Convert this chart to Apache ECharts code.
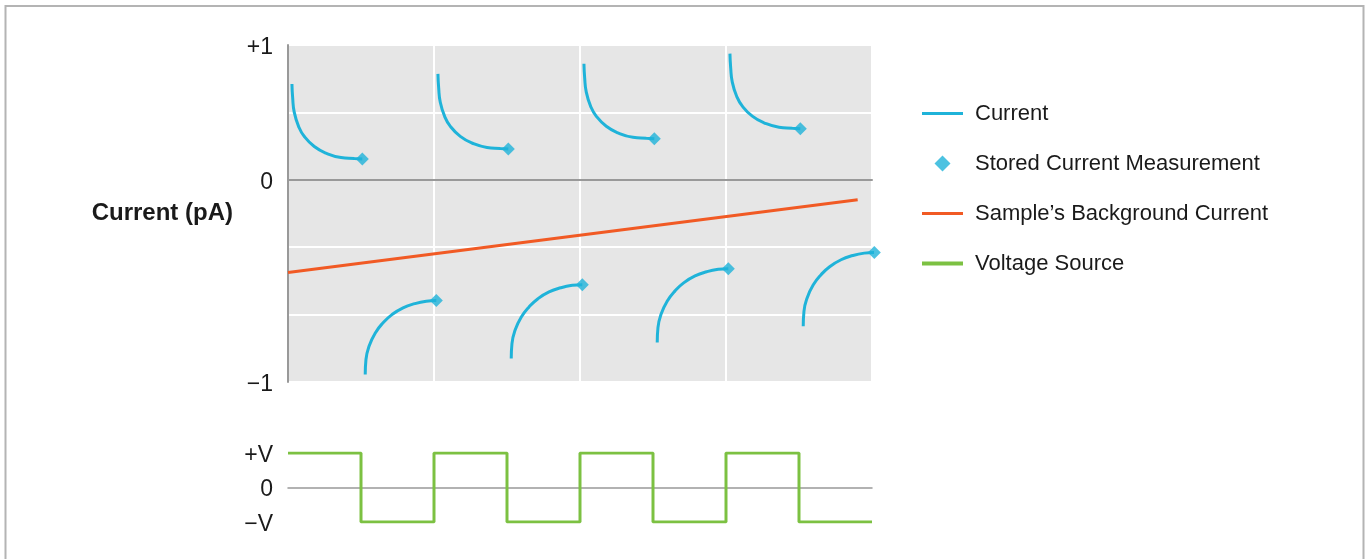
<!DOCTYPE html>
<html>
<head>
<meta charset="utf-8">
<script src="https://cdn.jsdelivr.net/npm/echarts@6/dist/echarts.min.js"></script>
<style>
html,body{margin:0;padding:0;background:#fff;}
#chart{width:1368px;height:559px;}
</style>
</head>
<body>
<div id="chart"></div>
<script>
// ---- Data (x in cycles, y in grid units) ----
const currentTickValues = [1, 0, -1.5];
const currentTickLabels = ['+1', '0', '\u22121'];
const voltageTickValues = [1, 0, -1];
const voltageTickLabels = ['+V', '0', '\u2212V'];

const upCurve1 = [[0.027,0.711],[0.032,0.607],[0.043,0.500],[0.073,0.395],[0.112,0.321],[0.180,0.247],[0.260,0.198],[0.363,0.165],[0.454,0.158],[0.509,0.154]];
const upCurve2 = [[1.027,0.786],[1.032,0.682],[1.043,0.575],[1.073,0.470],[1.112,0.396],[1.180,0.322],[1.260,0.273],[1.363,0.240],[1.454,0.233],[1.509,0.229]];
const upCurve3 = [[2.027,0.861],[2.032,0.757],[2.043,0.650],[2.073,0.545],[2.112,0.471],[2.180,0.397],[2.260,0.348],[2.363,0.315],[2.454,0.308],[2.509,0.304]];
const upCurve4 = [[3.027,0.936],[3.032,0.832],[3.043,0.725],[3.073,0.620],[3.112,0.546],[3.180,0.472],[3.260,0.423],[3.363,0.390],[3.454,0.383],[3.509,0.379]];
const downCurve1 = [[0.529,-1.444],[0.534,-1.333],[0.555,-1.235],[0.598,-1.136],[0.651,-1.061],[0.712,-1.000],[0.788,-0.950],[0.868,-0.919],[0.947,-0.901],[1.016,-0.896]];
const downCurve2 = [[1.529,-1.326],[1.534,-1.215],[1.555,-1.117],[1.598,-1.018],[1.651,-0.943],[1.712,-0.882],[1.788,-0.832],[1.868,-0.801],[1.947,-0.783],[2.016,-0.778]];
const downCurve3 = [[2.529,-1.207],[2.534,-1.096],[2.555,-0.998],[2.598,-0.899],[2.651,-0.824],[2.712,-0.763],[2.788,-0.713],[2.868,-0.682],[2.947,-0.664],[3.016,-0.659]];
const downCurve4 = [[3.529,-1.087],[3.534,-0.976],[3.555,-0.878],[3.598,-0.779],[3.651,-0.704],[3.712,-0.643],[3.788,-0.593],[3.868,-0.562],[3.947,-0.544],[4.016,-0.539]];

const storedX = [0.509, 1.016, 1.509, 2.016, 2.509, 3.016, 3.509, 4.016];
const storedY = [0.154, -0.896, 0.229, -0.778, 0.304, -0.659, 0.379, -0.539];

const backgroundX = [0, 3.902];
const backgroundY = [-0.687, -0.148];

const voltageX = [0, 0.5, 1, 1.5, 2, 2.5, 3, 3.5, 4];
const voltageY = [1, -1, 1, -1, 1, -1, 1, -1, -1];

// ---- Build ----
const curves = [upCurve1, downCurve1, upCurve2, downCurve2, upCurve3, downCurve3, upCurve4, downCurve4];
const currentData = [];
curves.forEach((c, i) => { if (i) currentData.push('-'); c.forEach(p => currentData.push(p)); });

const FONT = "'Liberation Sans', Arial, Helvetica, sans-serif";
const BLUE = '#1fb3d9', ORANGE = '#f15a24', GREEN = '#7cc142', AXIS = '#999999';

function labelFor(values, labels) {
  return v => { const i = values.findIndex(t => Math.abs(t - v) < 1e-6); return i >= 0 ? '{t|' + labels[i] + '}' : ''; };
}
const tickRich = {t: {fontFamily: FONT, fontSize: 23, color: '#1a1a1a', padding: [5, 0, 0, 0]}};

const LINE_ICON = 'path://M0,0 L41,0 L41,3 L0,3 Z';
const THICK_ICON = 'path://M0,0 L41,0 L41,4 L0,4 Z';
const DIAMOND_ICON = 'path://M7,0 L14,7 L7,14 L0,7 Z';

const chart = echarts.init(document.getElementById('chart'), null, {renderer: 'canvas'});
chart.setOption({
  animation: false,
  backgroundColor: '#ffffff',
  textStyle: {fontFamily: FONT},
  graphic: [{
    type: 'rect', silent: true, z: -10,
    shape: {x: 5.5, y: 6, width: 1358, height: 700},
    style: {fill: 'none', stroke: '#b4b4b4', lineWidth: 2}
  }],
  grid: [
    {left: 288, top: 45, width: 584, height: 337, show: true, backgroundColor: '#e6e6e6', borderWidth: 0},
    {left: 288, top: 453, width: 584, height: 69}
  ],
  legend: {
    orient: 'vertical', left: 917, top: 97.5,
    itemWidth: 41, itemHeight: 16, itemGap: 28, symbolKeepAspect: true,
    textStyle: {fontFamily: FONT, fontSize: 22, color: '#1a1a1a', lineHeight: 22, padding: [0, 0, 0, 7]},
    data: [
      {name: 'Current', icon: LINE_ICON},
      {name: 'Stored Current Measurement', icon: DIAMOND_ICON},
      {name: "Sample\u2019s Background Current", icon: LINE_ICON},
      {name: 'Voltage Source', icon: THICK_ICON}
    ]
  },
  xAxis: [
    {type: 'value', gridIndex: 0, min: 0, max: 4, interval: 1,
     axisLine: {show: true, onZero: true, lineStyle: {color: AXIS, width: 2}},
     axisTick: {show: false}, axisLabel: {show: false},
     splitLine: {show: true, lineStyle: {color: '#ffffff', width: 2}}},
    {type: 'value', gridIndex: 1, min: 0, max: 4, interval: 1,
     axisLine: {show: true, onZero: true, lineStyle: {color: AXIS, width: 1.5}},
     axisTick: {show: false}, axisLabel: {show: false}, splitLine: {show: false}}
  ],
  yAxis: [
    {type: 'value', gridIndex: 0, min: -1.5, max: 1, interval: 0.5,
     name: 'Current (pA)', nameLocation: 'middle', nameRotate: 0, nameGap: 55,
     nameTextStyle: {fontFamily: FONT, fontSize: 24, fontWeight: 'bold', color: '#1a1a1a', align: 'right', verticalAlign: 'middle'},
     axisLine: {show: true, lineStyle: {color: AXIS, width: 2}},
     axisTick: {show: false},
     axisLabel: {margin: 15, formatter: labelFor(currentTickValues, currentTickLabels), rich: tickRich},
     splitLine: {show: true, lineStyle: {color: '#ffffff', width: 2}}},
    {type: 'value', gridIndex: 1, min: -1, max: 1, interval: 1,
     axisLine: {show: false}, axisTick: {show: false},
     axisLabel: {margin: 15, formatter: labelFor(voltageTickValues, voltageTickLabels), rich: tickRich},
     splitLine: {show: false}}
  ],
  series: [
    {name: "Sample\u2019s Background Current", type: 'line', xAxisIndex: 0, yAxisIndex: 0,
     data: backgroundX.map((x, i) => [x, backgroundY[i]]), symbol: 'none',
     lineStyle: {color: ORANGE, width: 3}, itemStyle: {color: ORANGE}, z: 3},
    {name: 'Current', type: 'line', xAxisIndex: 0, yAxisIndex: 0, data: currentData,
     symbol: 'none', smooth: 0.5, connectNulls: false, clip: false,
     lineStyle: {color: BLUE, width: 3}, itemStyle: {color: BLUE}, z: 4},
    {name: 'Stored Current Measurement', type: 'scatter', xAxisIndex: 0, yAxisIndex: 0,
     data: storedX.map((x, i) => [x, storedY[i]]), symbol: 'diamond', symbolSize: 13, clip: false,
     itemStyle: {color: BLUE}, z: 5},
    {name: 'Voltage Source', type: 'line', xAxisIndex: 1, yAxisIndex: 1,
     data: voltageX.map((x, i) => [x, voltageY[i]]), step: 'end', symbol: 'none',
     lineStyle: {color: GREEN, width: 3}, itemStyle: {color: GREEN}, z: 3}
  ]
});
</script>
</body>
</html>
